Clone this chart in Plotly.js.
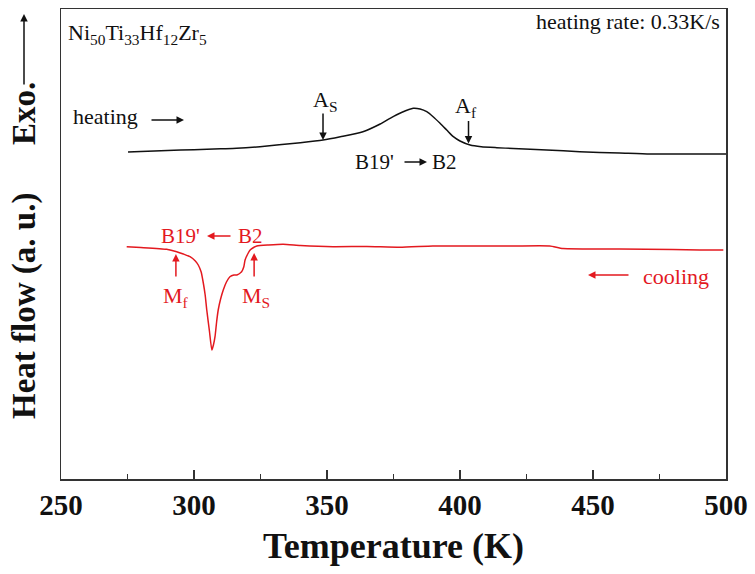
<!DOCTYPE html>
<html>
<head>
<meta charset="utf-8">
<script src="https://cdn.plot.ly/plotly-3.0.1.min.js"></script>
<style>html,body{margin:0;padding:0;background:#fff;}#chart{width:755px;height:574px;}</style>
</head>
<body>
<div id="chart"></div>
<script>
// Heating curve (black), temperature in K, heat flow in arbitrary units
const heatingT = [275.2, 280, 290, 300, 310, 316, 324.8, 332, 340, 348.5, 355, 363.5, 370, 373.7, 378, 382.4, 385, 387.5, 390, 392.5, 395, 397.5, 400, 403.8, 408, 413.8, 420, 432.6, 445, 460, 471.4, 480, 490, 500];
const heatingV = [327, 327.5, 328.5, 329.3, 330.2, 330.7, 332.3, 334.2, 336.3, 339, 342.3, 347.3, 355, 360.7, 366.5, 370.7, 370, 367.3, 362, 355.7, 349, 342.3, 338, 334, 332.3, 331.3, 330.5, 329, 327.3, 326, 325, 325, 325, 325];
// Cooling curve (red)
const coolingT = [274.7, 280, 289.7, 293.5, 296, 298.5, 300.5, 301.6, 302.7, 303.5, 304.2, 304.8, 305.8, 306.7, 307.3, 307.9, 308.5, 309.1, 310, 311, 312.2, 313.5, 315, 316.1, 317.9, 318.7, 319.2, 320.2, 321.1, 322.4, 323.6, 328, 333.5, 340, 352.3, 365, 377.4, 389.8, 400, 420, 433.8, 438.7, 460, 480, 490.2, 499];
const coolingV = [232.3, 231.5, 229.7, 227.3, 225, 222.3, 218, 214, 207, 196, 184, 169, 148, 129, 134, 142.3, 157, 169, 180, 189, 197, 202.3, 204, 204, 207.3, 212, 219, 225, 229, 231.5, 233, 234, 234.7, 233.5, 232.3, 232.5, 231.7, 233, 233, 233, 233, 230.5, 230, 229.5, 229, 229];
const xTicks = [250, 300, 350, 400, 450, 500];
const xTickText = ['250', '300', '350', '400', '450', '500'];

const RED = '#e3191f';
const FONT = 'Liberation Serif, Times New Roman, serif';
const L = 61, R = 726, T = 9, B = 479;
const px = p => (p - L) / (R - L);
const py = p => (B - p) / (B - T);

const traces = [
  {x: heatingT, y: heatingV, type: 'scatter', mode: 'lines', line: {color: '#111', width: 1.5, shape: 'spline', smoothing: 0.6}, hoverinfo: 'skip'},
  {x: coolingT, y: coolingV, type: 'scatter', mode: 'lines', line: {color: RED, width: 1.5, shape: 'spline', smoothing: 0.5}, hoverinfo: 'skip'}
];

function txt(text, xp, yp, size, color, extra) {
  return Object.assign({text: text, xref: 'paper', yref: 'paper', x: px(xp), y: py(yp), xanchor: 'left', yanchor: 'middle', showarrow: false, font: {family: FONT, size: size, color: color}}, extra || {});
}
function arr(xp, yp, ax, ay, color) {
  return {text: '', xref: 'paper', yref: 'paper', x: px(xp), y: py(yp), ax: ax, ay: ay, showarrow: true, arrowhead: 2, arrowsize: 1, arrowwidth: 1.5, arrowcolor: color, standoff: 0};
}
function darr(xv, yv, ax, ay, color) {
  return {text: '', xref: 'x', yref: 'y', x: xv, y: yv, ax: ax, ay: ay, showarrow: true, arrowhead: 2, arrowsize: 1, arrowwidth: 1.5, arrowcolor: color, standoff: 0};
}

const annotations = [
  txt('Ni<sub>50</sub>Ti<sub>33</sub>Hf<sub>12</sub>Zr<sub>5</sub>', 66, 34, 22, '#111'),
  txt('heating rate: 0.33K/s', 722, 21, 22, '#111', {xanchor: 'right'}),
  txt('heating', 71, 116, 22, '#111'),
  arr(184, 120, -34, 0, '#111'),
  txt('A<sub>S</sub>', 311, 101, 22, '#111'),
  darr(348.5, 339, 0, -28, '#111'),
  txt('A<sub>f</sub>', 453, 107, 22, '#111'),
  darr(403.2, 335.5, 0, -24, '#111'),
  txt("B19'", 353, 162, 21, '#111'),
  arr(427, 162, -24, 0, '#111'),
  txt('B2', 430, 162, 21, '#111'),
  txt("B19'", 159, 236, 21, RED),
  arr(207, 236, 25, 0, RED),
  txt('B2', 236, 236, 21, RED),
  txt('M<sub>f</sub>', 161, 297, 22, RED),
  darr(293.2, 225, 0, 24, RED),
  txt('M<sub>S</sub>', 240, 297, 22, RED),
  darr(322.6, 226, 0, 25, RED),
  txt('cooling', 641, 276, 22, RED),
  arr(588, 275, 42, 0, RED),
  // y-axis title pieces
  txt('Heat flow (a. u.)', 24, 306, 33, '#111', {xanchor: 'center', textangle: -90, font: {family: FONT, size: 33, color: '#111', weight: 'bold'}}),
  txt('Exo.', 24, 114, 33, '#111', {xanchor: 'center', textangle: -90, font: {family: FONT, size: 33, color: '#111', weight: 'bold'}}),
  arr(24, 14, 0, 72, '#111')
];

const layout = {
  width: 755, height: 574,
  margin: {l: L, r: 755 - R, t: T, b: 574 - B},
  paper_bgcolor: '#fff', plot_bgcolor: '#fff',
  showlegend: false,
  xaxis: {
    range: [250, 500], tickvals: xTicks, ticktext: xTickText,
    ticks: 'inside', ticklen: 9, tickwidth: 1.5, tickcolor: '#333',
    minor: {dtick: 25, tick0: 250, ticks: 'inside', ticklen: 5, tickwidth: 1.5, tickcolor: '#333', showgrid: false},
    showline: true, linecolor: '#333', linewidth: 1.5, mirror: true,
    showgrid: false, zeroline: false,
    tickfont: {family: FONT, size: 29, color: '#111', weight: 'bold'},
    ticklabelstandoff: 0,
    title: {text: 'Temperature (K)', font: {family: FONT, size: 36, color: '#111', weight: 'bold'}, standoff: 12}
  },
  yaxis: {
    range: [0, 470], showticklabels: false, ticks: '',
    showline: true, linecolor: '#333', linewidth: 1.5, mirror: true,
    showgrid: false, zeroline: false
  },
  annotations: annotations
};

Plotly.newPlot('chart', traces, layout, {staticPlot: true, displayModeBar: false});
</script>
</body>
</html>
